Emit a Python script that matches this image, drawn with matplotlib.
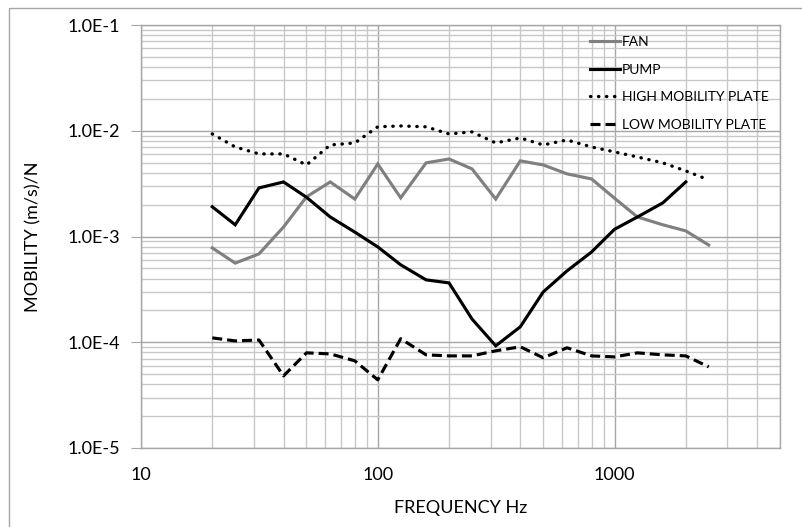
import matplotlib
matplotlib.use("Agg")
import matplotlib.pyplot as plt
from matplotlib.ticker import LogLocator, FixedLocator, NullFormatter, FuncFormatter
from matplotlib.patches import Rectangle

plt.rcParams['font.family'] = ['Lato', 'DejaVu Sans']

# One-third octave band centre frequencies (Hz)
freq = [20, 25, 31.5, 40, 50, 63, 80, 100, 125, 160, 200, 250, 315, 400,
        500, 630, 800, 1000, 1250, 1600, 2000, 2500]

fan = [7.8e-4, 5.6e-4, 6.85e-4, 1.23e-3, 2.37e-3, 3.28e-3, 2.26e-3, 4.85e-3,
       2.32e-3, 4.97e-3, 5.41e-3, 4.36e-3, 2.26e-3, 5.19e-3, 4.75e-3, 3.91e-3,
       3.50e-3, 2.30e-3, 1.53e-3, 1.29e-3, 1.13e-3, 8.3e-4]

pump_freq = freq[:-1]
pump = [1.91e-3, 1.29e-3, 2.88e-3, 3.28e-3, 2.35e-3, 1.53e-3, 1.10e-3, 7.97e-4,
        5.40e-4, 3.89e-4, 3.64e-4, 1.66e-4, 9.25e-5, 1.40e-4, 2.99e-4, 4.73e-4,
        7.14e-4, 1.17e-3, 1.53e-3, 2.08e-3, 3.28e-3]

high_plate = [9.33e-3, 7.03e-3, 6.04e-3, 6.04e-3, 4.75e-3, 7.34e-3, 7.67e-3,
              1.09e-2, 1.11e-2, 1.09e-2, 9.33e-3, 9.75e-3, 7.67e-3, 8.55e-3,
              7.34e-3, 8.18e-3, 7.03e-3, 6.31e-3, 5.65e-3, 4.97e-3, 4.17e-3,
              3.43e-3]

low_plate = [1.10e-4, 1.03e-4, 1.05e-4, 4.81e-5, 7.94e-5, 7.76e-5, 6.67e-5,
             4.41e-5, 1.08e-4, 7.60e-5, 7.43e-5, 7.43e-5, 8.30e-5, 9.06e-5,
             7.13e-5, 8.87e-5, 7.43e-5, 7.27e-5, 7.94e-5, 7.60e-5, 7.43e-5,
             5.85e-5]

x_ticks = [10, 100, 1000]
x_tick_labels = ["10", "100", "1000"]
y_ticks = [1e-5, 1e-4, 1e-3, 1e-2, 1e-1]
y_tick_labels = ["1.0E-5", "1.0E-4", "1.0E-3", "1.0E-2", "1.0E-1"]

W, H = 802, 527
fig = plt.figure(figsize=(W / 100, H / 100), dpi=100)
ax = fig.add_axes([141 / W, 1 - 448 / H, (780 - 141) / W, (448 - 25) / H])

# chart outer border
fig.patches.append(Rectangle((9 / W, -0.1), 1.2, 1 - 8 / H + 0.1,
                             transform=fig.transFigure, fill=False,
                             edgecolor='#a6a6a6', linewidth=1.0))

ax.set_xscale('log')
ax.set_yscale('log')
ax.set_xlim(10, 5000)
ax.set_ylim(1e-5, 1e-1)

ax.xaxis.set_major_locator(FixedLocator(x_ticks))
ax.xaxis.set_major_formatter(FuncFormatter(lambda v, p: x_tick_labels[x_ticks.index(v)] if v in x_ticks else ""))
ax.xaxis.set_minor_locator(LogLocator(base=10, subs=range(2, 10), numticks=20))
ax.xaxis.set_minor_formatter(NullFormatter())
ax.yaxis.set_major_locator(FixedLocator(y_ticks))
ax.set_yticklabels(y_tick_labels)
ax.yaxis.set_minor_locator(LogLocator(base=10, subs=range(2, 10), numticks=20))
ax.yaxis.set_minor_formatter(NullFormatter())

ax.grid(which='major', color='#a6a6a6', linewidth=1.0)
ax.grid(which='minor', color='#c8c8c8', linewidth=1.0)
ax.set_axisbelow(True)
for s in ax.spines.values():
    s.set_color('#a6a6a6')
    s.set_linewidth(1.0)

ax.tick_params(axis='x', which='both', length=0, pad=14, labelsize=13, labelcolor='#000000')
ax.tick_params(axis='y', which='major', length=7, color='#a6a6a6', pad=8, labelsize=13)
ax.tick_params(axis='y', which='minor', length=0)

ax.plot(freq, fan, color='#808080', linewidth=2.25, label='FAN', solid_joinstyle='miter')
ax.plot(pump_freq, pump, color='#000000', linewidth=2.25, label='PUMP', solid_joinstyle='miter')
ax.plot(freq, high_plate, color='#000000', linewidth=2.4,
        linestyle=(0, (0.1, 2.3)), dash_capstyle='round', label='HIGH MOBILITY PLATE')
ax.plot(freq, low_plate, color='#000000', linewidth=2.25,
        linestyle=(0, (3.2, 1.6)), dash_capstyle='butt', label='LOW MOBILITY PLATE')

ax.set_xlabel('FREQUENCY Hz', fontsize=13, labelpad=12)
ax.set_ylabel('MOBILITY (m/s)/N', fontsize=13, labelpad=19)

leg = ax.legend(loc='upper left', bbox_to_anchor=(590 / W, 1 - 36 / H),
                bbox_transform=fig.transFigure, frameon=False, fontsize=10,
                handlelength=2.15, handletextpad=0.15, labelspacing=1.12,
                borderpad=0, borderaxespad=0)

fig.savefig('out.png', dpi=100)
